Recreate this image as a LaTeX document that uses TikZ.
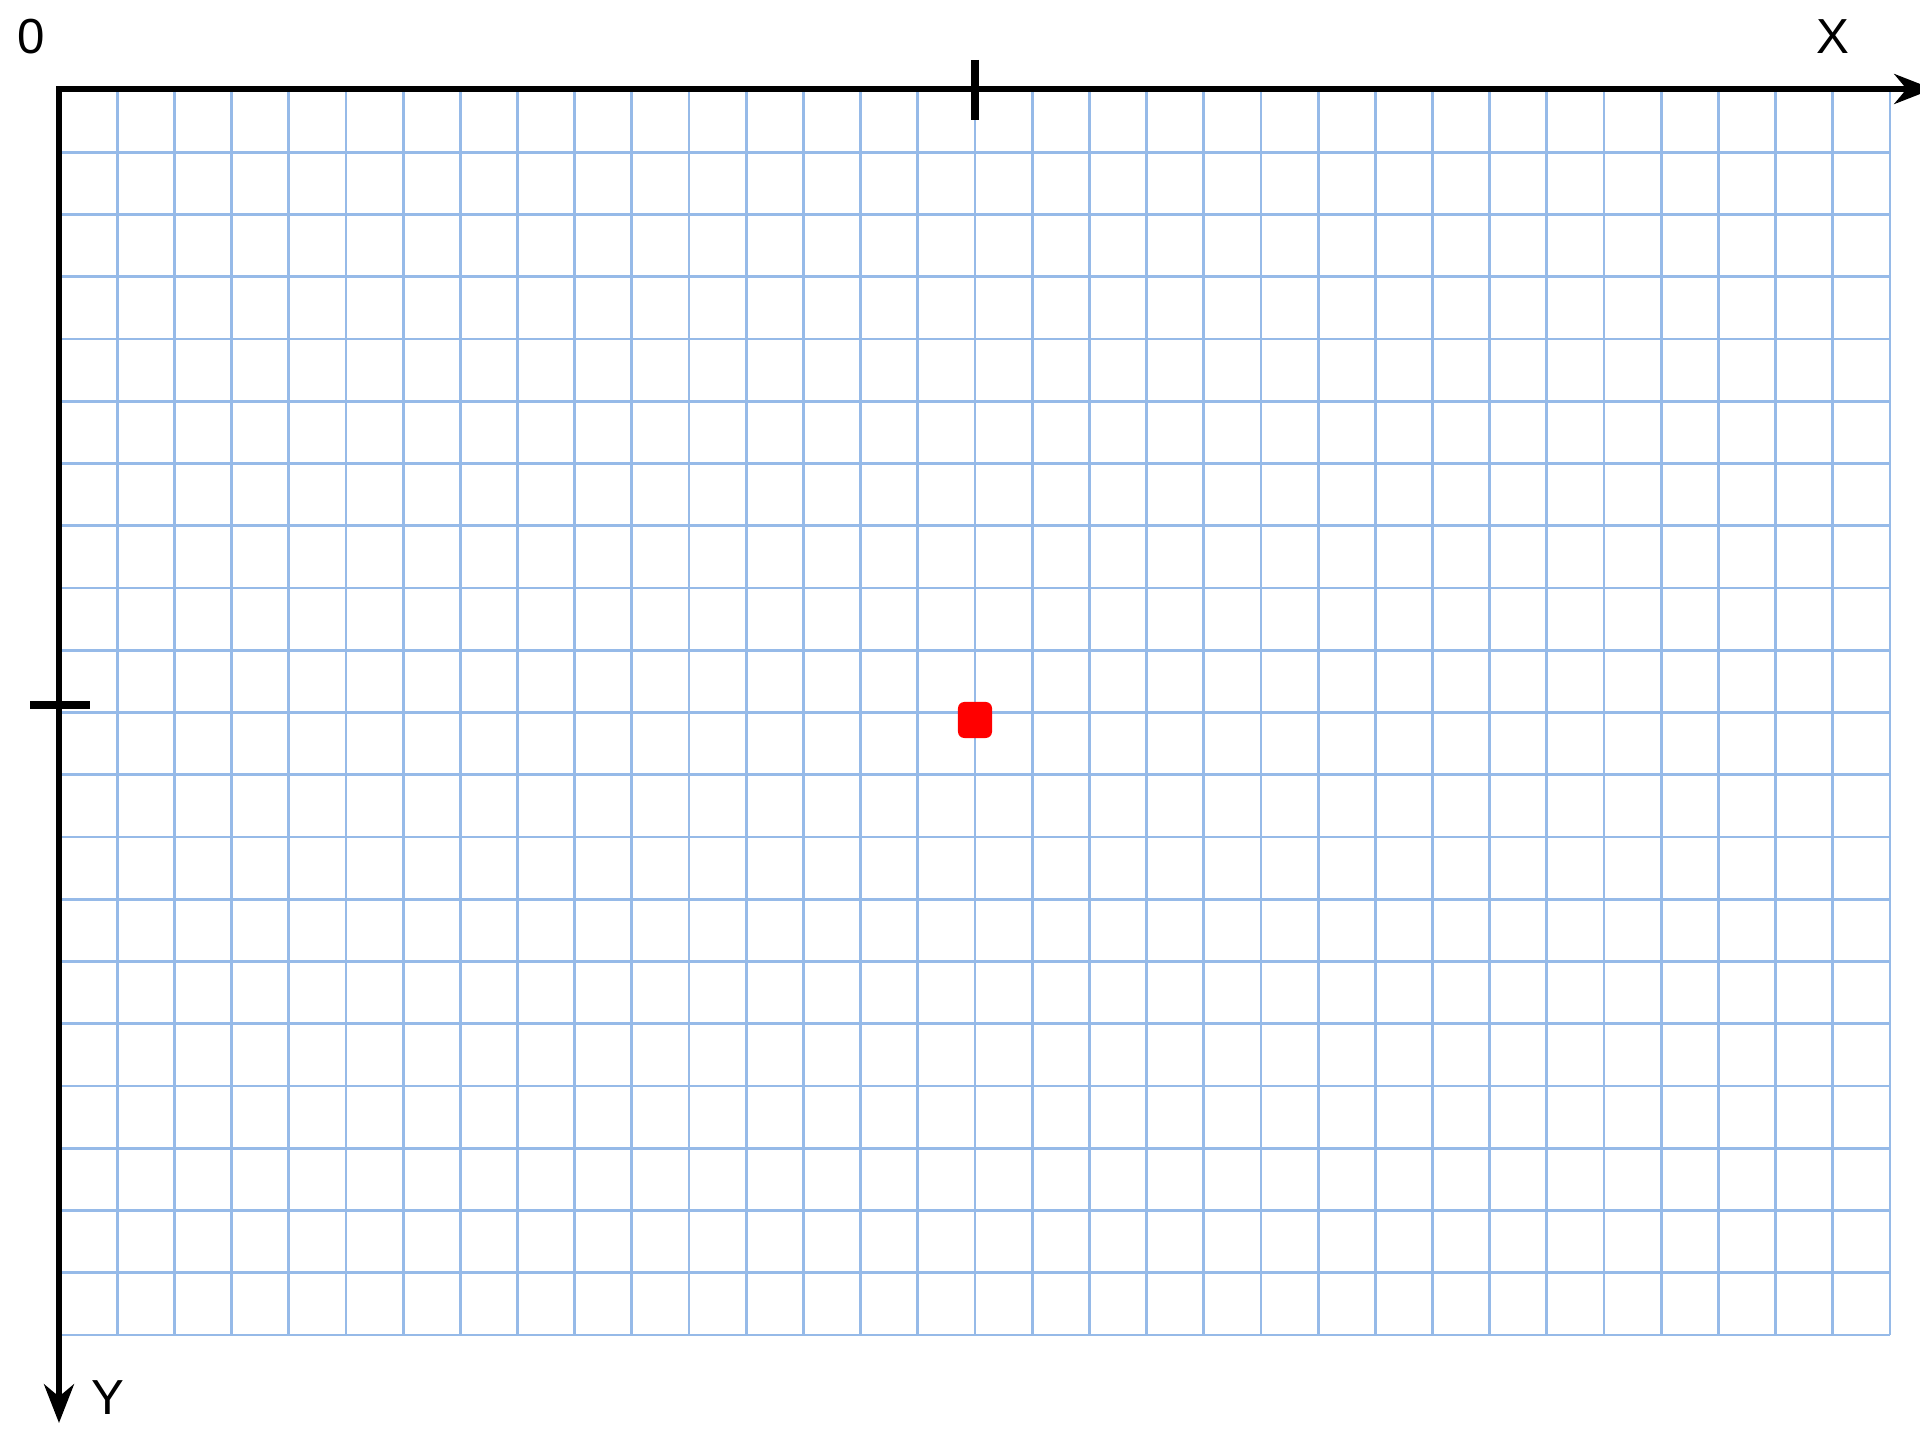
\documentclass[tikz,border=0pt]{standalone}
\usepackage{fontspec}
\setmainfont{Liberation Sans}
\usetikzlibrary{arrows.meta, positioning, calc}
\definecolor{gridblue}{RGB}{150, 186, 232}
\definecolor{pointred}{RGB}{255, 0, 0}

\begin{document}
\begin{tikzpicture}[
                x=0.01cm, y=-0.01cm,
                rejilla/.style={
                    draw=gridblue,
                    line width=0.8pt
                },
                eje/.style={
                    draw=black,
                    line width=1.7pt,
                    -{Stealth[length=11pt, width=8.5pt, inset=3.5pt]}
                },
                marca/.style={
                    draw=black,
                    line width=2.3pt
                },
                etiqueta/.style={
                    font=\fontsize{14}{16}\selectfont,
                    inner sep=0pt
                },
                punto/.style={
                    rectangle,
                    rounded corners=1.8pt,
                    fill=pointred,
                    minimum width=0.34cm,
                    minimum height=0.36cm,
                    inner sep=0pt
                }
            ]
                \useasboundingbox (0,0) rectangle (1920,1440);
                % cuadricula
                \foreach \i in {1,...,32}
                    \draw[rejilla] ({60+\i*57.1875},90) -- ({60+\i*57.1875},1335);
                \foreach \j in {1,...,20}
                    \draw[rejilla] (60,{90+\j*62.25}) -- (1890,{90+\j*62.25});
                % ejes
                \coordinate (origen) at (59,89);
                \coordinate (finx) at (1933,89);
                \coordinate (finy) at (59,1423);
                \draw[eje] ($(origen)+(-3,0)$) -- (finx);
                \draw[eje] (origen) -- (finy);
                \draw[marca] (975,60) -- (975,120);
                \draw[marca] (30,705) -- (90,705);
                % textos
                \node[etiqueta] (cero) at (31,37) {0};
                \node[etiqueta] (ejex) at (1833,37) {X};
                \node[etiqueta] (ejey) at (108,1398) {Y};
                \node[punto] (centro) at (975,720) {};
            \end{tikzpicture}
\end{document}
